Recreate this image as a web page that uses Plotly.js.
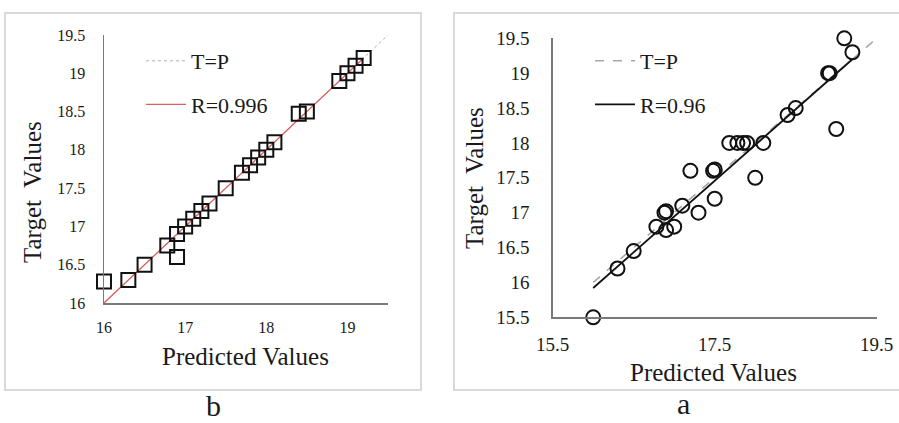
<!DOCTYPE html>
<html>
<head>
<meta charset="utf-8">
<script src="https://cdn.plot.ly/plotly-3.0.1.min.js"></script>
<style>html,body{margin:0;padding:0;background:#fff;}#chart{width:899px;height:423px;}</style>
</head>
<body>
<div id="chart"></div>
<script>
// ---- Panel b (left) data ----
const bPredicted = [16.0, 16.3, 16.5, 16.78, 16.9, 16.9, 17.0, 17.1, 17.2, 17.3, 17.5, 17.7, 17.8, 17.9, 18.0, 18.1, 18.4, 18.5, 18.9, 19.0, 19.1, 19.2];
const bTarget    = [16.28, 16.3, 16.5, 16.75, 16.6, 16.9, 17.0, 17.1, 17.2, 17.3, 17.5, 17.7, 17.8, 17.9, 18.0, 18.1, 18.47, 18.5, 18.9, 19.0, 19.1, 19.2];
const bIdentX = [16, 19.5];
const bIdentY = [16, 19.5];
const bFitX = [16, 19.2];
const bFitY = [16, 19.2];
const bXTicks = [16, 17, 18, 19];
const bYTicks = [16, 16.5, 17, 17.5, 18, 18.5, 19, 19.5];
const bFitLabel = "R=0.996";

// ---- Panel a (right) data ----
const aPredicted = [16.0, 16.3, 16.5, 16.78, 16.9, 16.88, 16.9, 17.0, 17.1, 17.2, 17.3, 17.48, 17.5, 17.5, 17.68, 17.78, 17.85, 17.9, 18.0, 18.1, 18.4, 18.5, 19.0, 18.9, 18.92, 19.1, 19.2];
const aTarget    = [15.5, 16.2, 16.45, 16.8, 16.75, 17.0, 17.02, 16.8, 17.1, 17.6, 17.0, 17.6, 17.62, 17.2, 18.0, 18.0, 18.0, 18.0, 17.5, 18.0, 18.4, 18.5, 18.2, 19.0, 19.0, 19.5, 19.3];
const aIdentX = [16, 19.5];
const aIdentY = [16, 19.5];
const aFitX = [16, 19.2];
const aFitY = [15.92, 19.2];
const aXTicks = [15.5, 17.5, 19.5];
const aYTicks = [15.5, 16, 16.5, 17, 17.5, 18, 18.5, 19, 19.5];
const aFitLabel = "R=0.96";

const W = 899, H = 423;
const px = x => x / W;
const py = y => 1 - y / H;
const FONT = 'Liberation Serif';
const TXT = '#1a1a1a';
const AXC = '#7a7a7a';

const traces = [
  {x: bIdentX, y: bIdentY, xaxis: 'x', yaxis: 'y', mode: 'lines', name: 'T=P',
   line: {color: '#b0b0b0', width: 1, dash: 'dot'}, legend: 'legend', legendgroup: 'b1', hoverinfo: 'skip'},
  {x: bFitX, y: bFitY, xaxis: 'x', yaxis: 'y', mode: 'lines', name: bFitLabel,
   line: {color: '#d9615e', width: 1.3}, legend: 'legend', legendgroup: 'b2', hoverinfo: 'skip'},
  {x: bPredicted, y: bTarget, xaxis: 'x', yaxis: 'y', mode: 'markers', showlegend: false, cliponaxis: false,
   marker: {symbol: 'square-open', size: 14, color: '#111', line: {width: 2, color: '#111'}}},
  {x: aIdentX, y: aIdentY, xaxis: 'x2', yaxis: 'y2', mode: 'lines', name: 'T=P',
   line: {color: '#a8a8a8', width: 1.6, dash: 'dash'}, legend: 'legend2', legendgroup: 'a1', hoverinfo: 'skip'},
  {x: aFitX, y: aFitY, xaxis: 'x2', yaxis: 'y2', mode: 'lines', name: aFitLabel,
   line: {color: '#111', width: 1.8}, legend: 'legend2', legendgroup: 'a2', hoverinfo: 'skip'},
  {x: aPredicted, y: aTarget, xaxis: 'x2', yaxis: 'y2', mode: 'markers', showlegend: false, cliponaxis: false,
   marker: {symbol: 'circle-open', size: 14, color: '#111', line: {width: 2, color: '#111'}}}
];

function axis(domain, range, ticks, fontSize, standoff) {
  return {domain: domain, range: range, tickvals: ticks, ticktext: ticks.map(String),
    showgrid: false, zeroline: false, showline: true, linecolor: AXC, linewidth: 1.5,
    ticks: 'outside', ticklen: standoff, tickcolor: 'rgba(0,0,0,0)',
    tickfont: {family: FONT, size: fontSize, color: TXT}, fixedrange: true};
}

function label(text, x, y, size, angle) {
  return {text: text, xref: 'paper', yref: 'paper', x: px(x), y: py(y), xanchor: 'center', yanchor: 'middle',
    textangle: angle || 0, showarrow: false, font: {family: FONT, size: size, color: TXT}};
}

const layout = {
  width: W, height: H, margin: {l: 0, r: 0, t: 0, b: 0},
  paper_bgcolor: '#fff', plot_bgcolor: 'rgba(0,0,0,0)',
  xaxis: Object.assign(axis([px(104), px(388)], [16, 19.5], bXTicks, 16, 9), {anchor: 'y'}),
  yaxis: Object.assign(axis([py(303), py(35)], [16, 19.5], bYTicks, 16, 14), {anchor: 'x'}),
  xaxis2: Object.assign(axis([px(552.7), px(876.7)], [15.5, 19.5], aXTicks, 19, 9), {anchor: 'y2'}),
  yaxis2: Object.assign(axis([py(317.3), py(38.3)], [15.5, 19.5], aYTicks, 19, 18), {anchor: 'x2'}),
  legend: {x: px(141), y: py(40), xanchor: 'left', yanchor: 'top', bgcolor: 'rgba(0,0,0,0)',
    font: {family: FONT, size: 22, color: TXT}, traceorder: 'grouped', tracegroupgap: 12, itemwidth: 40},
  legend2: {x: px(590), y: py(40), xanchor: 'left', yanchor: 'top', bgcolor: 'rgba(0,0,0,0)',
    font: {family: FONT, size: 22, color: TXT}, traceorder: 'grouped', tracegroupgap: 12, itemwidth: 40},
  shapes: [
    {type: 'rect', xref: 'paper', yref: 'paper', x0: px(5), x1: px(421), y0: py(390), y1: py(13),
     line: {color: '#d9d9d9', width: 2}},
    {type: 'rect', xref: 'paper', yref: 'paper', x0: px(454), x1: px(902), y0: py(390), y1: py(13),
     line: {color: '#d9d9d9', width: 2}}
  ],
  annotations: [
    label('Predicted Values', 245, 356, 25),
    label('Target  Values', 32, 192, 25, -90),
    label('Predicted Values', 713, 372, 25),
    label('Target  Values', 475, 178, 25, -90),
    label('b', 213, 405, 30),
    label('a', 683, 403, 30)
  ]
};

Plotly.newPlot('chart', traces, layout, {staticPlot: true, displayModeBar: false});
</script>
</body>
</html>
